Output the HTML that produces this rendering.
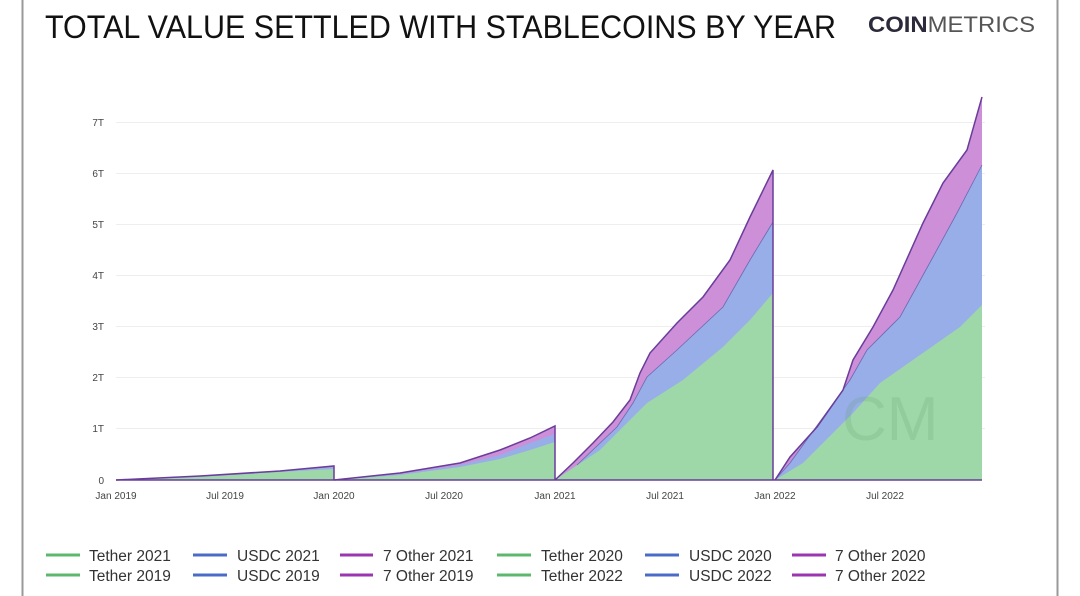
<!DOCTYPE html>
<html><head><meta charset="utf-8"><style>
html,body{margin:0;padding:0;background:#fff;width:1080px;height:596px;overflow:hidden}
svg{display:block;font-family:"Liberation Sans",sans-serif}
</style></head><body>
<svg width="1080" height="596" viewBox="0 0 1080 596">
<rect width="1080" height="596" fill="#fff"/>
<line x1="22.5" y1="0" x2="22.5" y2="596" stroke="#999" stroke-width="2"/>
<line x1="1057.5" y1="0" x2="1057.5" y2="596" stroke="#999" stroke-width="2"/>
<text x="45" y="38" font-size="32" fill="#111" textLength="791" lengthAdjust="spacingAndGlyphs">TOTAL VALUE SETTLED WITH STABLECOINS BY YEAR</text>
<text x="868" y="32" font-size="22" fill="#2a2a3a" textLength="167" lengthAdjust="spacingAndGlyphs"><tspan font-weight="bold">COIN</tspan><tspan fill="#555" font-weight="normal">METRICS</tspan></text>
<g stroke="#eee" stroke-width="1">
<line x1="116" y1="122.5" x2="985" y2="122.5"/><line x1="116" y1="173.5" x2="985" y2="173.5"/>
<line x1="116" y1="224.5" x2="985" y2="224.5"/><line x1="116" y1="275.5" x2="985" y2="275.5"/>
<line x1="116" y1="326.5" x2="985" y2="326.5"/><line x1="116" y1="377.5" x2="985" y2="377.5"/>
<line x1="116" y1="428.5" x2="985" y2="428.5"/>
</g>
<g font-size="10" fill="#444" text-anchor="end">
<text x="104" y="126">7T</text><text x="104" y="177">6T</text><text x="104" y="228">5T</text>
<text x="104" y="279">4T</text><text x="104" y="330">3T</text><text x="104" y="381">2T</text>
<text x="104" y="432">1T</text><text x="104" y="484">0</text>
</g>
<g font-size="10" fill="#444" text-anchor="middle">
<text x="116" y="499">Jan 2019</text><text x="225" y="499">Jul 2019</text><text x="334" y="499">Jan 2020</text>
<text x="444" y="499">Jul 2020</text><text x="555" y="499">Jan 2021</text><text x="665" y="499">Jul 2021</text>
<text x="775" y="499">Jan 2022</text><text x="885" y="499">Jul 2022</text>
</g>
<!-- 2019 -->
<polygon points="116,480 200,476 280,471 334,466 334,480" fill="#cc8fd8"/>
<polygon points="116,480 200,476 280,471 334,467 334,480" fill="#98aee8"/>
<polygon points="116,480 200,477 280,472 334,469 334,480" fill="#9fd8a8"/>
<polyline points="116,480 200,476 280,471 334,466 334,480" fill="none" stroke="#6a3d9a" stroke-width="1.5"/>
<!-- 2020 -->
<polygon points="334,480 400,473 460,463 500,450 530,438 555,426 555,480" fill="#cc8fd8"/>
<polygon points="334,480 400,474 460,465 500,455 530,443 555,434 555,480" fill="#98aee8"/>
<polygon points="334,480 400,475 460,467 500,459 530,450 555,442 555,480" fill="#9fd8a8"/>
<polyline points="334,480 400,473 460,463 500,450 530,438 555,426 555,480" fill="none" stroke="#6a3d9a" stroke-width="1.5"/>
<!-- 2021 -->
<polygon points="555,480 573,463 593,443 613,422 630,400 640,373 650,353 677,323 703,297 730,260 750,217 773,170 773,480" fill="#cc8fd8"/>
<polygon points="555,480 577,465 617,427 633,403 647,377 677,350 723,307 750,260 773,222 773,480" fill="#98aee8"/>
<polygon points="555,480 600,450 647,403 683,380 723,347 750,320 773,293 773,480" fill="#9fd8a8"/>
<polyline points="577,465 617,427 633,403 647,377 677,350 723,307 750,260 773,222" fill="none" stroke="#6a6ab0" stroke-width="0.8"/>
<polyline points="555,480 573,463 593,443 613,422 630,400 640,373 650,353 677,323 703,297 730,260 750,217 773,170 773,480" fill="none" stroke="#6a3d9a" stroke-width="1.5"/>
<!-- 2022 -->
<polygon points="775,480 790,457 817,427 843,390 853,360 873,327 893,290 923,223 943,183 967,150 982,97 982,480" fill="#cc8fd8"/>
<polygon points="775,480 790,463 850,380 867,350 900,317 933,257 957,213 982,165 982,480" fill="#98aee8"/>
<polygon points="775,480 803,463 853,413 880,383 960,327 982,305 982,480" fill="#9fd8a8"/>
<polyline points="775,480 790,463 850,380 867,350 900,317 933,257 957,213 982,165" fill="none" stroke="#6a6ab0" stroke-width="0.8"/>
<polyline points="775,480 790,457 817,427 843,390 853,360 873,327 893,290 923,223 943,183 967,150 982,97" fill="none" stroke="#6a3d9a" stroke-width="1.5"/>
<text x="842" y="440" font-size="62" fill="#5a9a6a" opacity="0.18">CM</text>
<line x1="116" y1="480" x2="982" y2="480" stroke="#6a3d9a" stroke-width="1.5"/>
<!-- legend -->
<g stroke-width="3">
<line x1="46" y1="555" x2="80" y2="555" stroke="#5cb86c"/><line x1="193" y1="555" x2="227" y2="555" stroke="#4a6cc8"/><line x1="340" y1="555" x2="373" y2="555" stroke="#9b36b0"/>
<line x1="497" y1="555" x2="531" y2="555" stroke="#5cb86c"/><line x1="645" y1="555" x2="679" y2="555" stroke="#4a6cc8"/><line x1="792" y1="555" x2="826" y2="555" stroke="#9b36b0"/>
<line x1="46" y1="575" x2="80" y2="575" stroke="#5cb86c"/><line x1="193" y1="575" x2="227" y2="575" stroke="#4a6cc8"/><line x1="340" y1="575" x2="373" y2="575" stroke="#9b36b0"/>
<line x1="497" y1="575" x2="531" y2="575" stroke="#5cb86c"/><line x1="645" y1="575" x2="679" y2="575" stroke="#4a6cc8"/><line x1="792" y1="575" x2="826" y2="575" stroke="#9b36b0"/>
</g>
<g font-size="15.5" fill="#333">
<text x="89" y="561">Tether 2021</text><text x="237" y="561">USDC 2021</text><text x="383" y="561">7 Other 2021</text>
<text x="541" y="561">Tether 2020</text><text x="689" y="561">USDC 2020</text><text x="835" y="561">7 Other 2020</text>
<text x="89" y="581">Tether 2019</text><text x="237" y="581">USDC 2019</text><text x="383" y="581">7 Other 2019</text>
<text x="541" y="581">Tether 2022</text><text x="689" y="581">USDC 2022</text><text x="835" y="581">7 Other 2022</text>
</g>
</svg>
</body></html>
